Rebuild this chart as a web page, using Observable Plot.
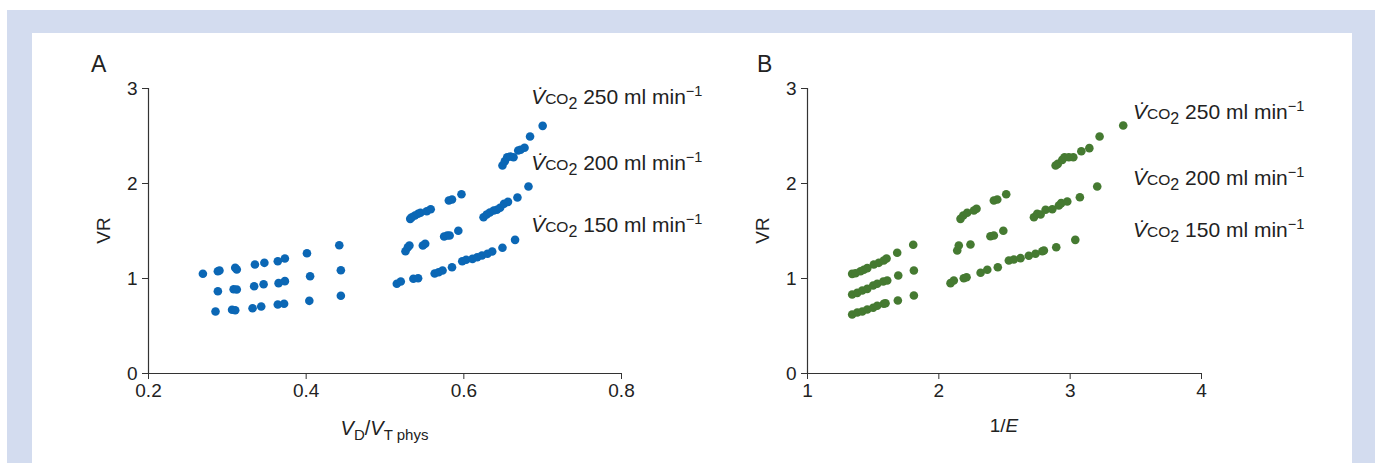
<!DOCTYPE html>
<html><head><meta charset="utf-8">
<script src="https://cdn.jsdelivr.net/npm/d3@7"></script>
<script src="https://cdn.jsdelivr.net/npm/@observablehq/plot@0.6"></script>
<style>
body{margin:0;background:#fff;font-family:"Liberation Sans",Arial,sans-serif;}
#frame{position:absolute;left:7px;top:10px;width:1368px;height:453px;background:#d3dcef;}
#inner{position:absolute;left:32px;top:33px;width:1320px;height:430px;background:#fff;}
#inner svg{position:absolute;top:0;overflow:visible;}
</style></head><body>
<div id="frame"></div><div id="inner"></div>
<script>
// ---- Panel A: VD/VT phys vs VR ----
const vdvt250 = [0.269,0.288,0.290,0.310,0.312,0.335,0.347,0.364,0.373,0.401,0.442, 0.532,0.534,0.538,0.542,0.545,0.553,0.558,0.581,0.585,0.597, 0.649,0.652,0.655,0.659,0.663,0.669,0.672,0.677,0.684,0.700];
const vrA250  = [1.05,1.077,1.084,1.113,1.095,1.147,1.165,1.182,1.21,1.266,1.35, 1.628,1.645,1.663,1.681,1.692,1.708,1.729,1.821,1.832,1.887, 2.189,2.235,2.277,2.284,2.277,2.347,2.355,2.376,2.495,2.607];
const vdvt200 = [0.288,0.308,0.312,0.334,0.346,0.365,0.373,0.405,0.444, 0.526,0.529,0.531,0.548,0.551,0.575,0.579,0.582,0.593, 0.625,0.629,0.633,0.638,0.642,0.646,0.651,0.656,0.668,0.682];
const vrA200  = [0.866,0.887,0.884,0.919,0.94,0.951,0.972,1.024,1.087, 1.287,1.329,1.347,1.347,1.365,1.442,1.453,1.453,1.502, 1.645,1.674,1.695,1.716,1.723,1.744,1.786,1.807,1.853,1.968];
const vdvt150 = [0.285,0.306,0.310,0.332,0.343,0.364,0.372,0.404,0.444, 0.515,0.520,0.536,0.542,0.563,0.568,0.573,0.585,0.598,0.603,0.611,0.617,0.623,0.630,0.636,0.649,0.665];
const vrA150  = [0.653,0.671,0.666,0.687,0.705,0.726,0.734,0.765,0.818, 0.944,0.968,0.997,1.003,1.053,1.066,1.084,1.119,1.182,1.197,1.207,1.224,1.242,1.26,1.284,1.323,1.407];

// ---- Panel B: 1/E vs VR ----
const invE250 = [1.340,1.366,1.404,1.429,1.455,1.505,1.543,1.581,1.602,1.683,1.805, 2.165,2.186,2.216,2.267,2.287,2.419,2.445,2.513, 2.889,2.906,2.940,2.957,2.990,3.024,3.085,3.146,3.224,3.404];
const vrB250  = [1.049,1.056,1.077,1.092,1.109,1.147,1.165,1.189,1.211,1.271,1.355, 1.628,1.663,1.692,1.716,1.734,1.821,1.832,1.887, 2.189,2.207,2.249,2.277,2.277,2.277,2.34,2.372,2.495,2.61];
const invE200 = [1.340,1.379,1.417,1.455,1.500,1.531,1.577,1.607,1.691,1.810, 2.140,2.152,2.241,2.393,2.419,2.491, 2.724,2.749,2.775,2.813,2.864,2.914,2.932,2.978,3.074,3.206];
const vrB200  = [0.832,0.849,0.874,0.891,0.926,0.944,0.968,0.979,1.032,1.084, 1.295,1.347,1.358,1.445,1.453,1.502, 1.645,1.681,1.674,1.723,1.729,1.768,1.793,1.811,1.856,1.968];
const invE150 = [1.340,1.379,1.417,1.455,1.500,1.531,1.581,1.594,1.688,1.810, 2.089,2.114,2.190,2.211,2.318,2.369,2.449,2.533,2.571,2.622,2.685,2.736,2.788,2.800,2.894,3.039];
const vrB150  = [0.621,0.642,0.653,0.674,0.692,0.713,0.734,0.740,0.768,0.821, 0.951,0.979,1.003,1.013,1.060,1.092,1.119,1.189,1.2,1.214,1.239,1.26,1.287,1.295,1.329,1.407];

const seriesRates = ["250","200","150"];
const xTicksA = [0.2,0.4,0.6,0.8];
const xTicksB = [1,2,3,4];
const yTicks = [0,1,2,3];
// annotation anchors in data units [x, y] per series (250, 200, 150)
const annotA = [[0.686,2.83],[0.686,2.14],[0.686,1.48]];
const annotB = [[3.483,2.67],[3.483,1.98],[3.483,1.43]];

const FONT = '"Liberation Sans", Arial, sans-serif';
const AXIS = "#333";

function rows(xs, ys, rate){ return xs.map((x,i)=>({x, y: ys[i], rate})); }

function makePanel(opts){
  const data = [...rows(opts.x250, opts.y250, "250"), ...rows(opts.x200, opts.y200, "200"), ...rows(opts.x150, opts.y150, "150")];
  const dom = opts.domain;
  const plot = Plot.plot({
    width: opts.width, height: 430,
    marginLeft: opts.ml, marginRight: opts.mr, marginTop: 55, marginBottom: 90,
    style: {fontFamily: FONT, fontSize: "19px", color: "#222", background: "transparent", overflow: "visible"},
    x: {domain: dom, ticks: opts.ticks},
    y: {domain: [0,3], ticks: yTicks},
    marks: [
      Plot.ruleX([dom[0]], {y1: 0, y2: 3, stroke: AXIS, strokeWidth: 1.2}),
      Plot.ruleY([0], {x1: dom[0], x2: dom[1], stroke: AXIS, strokeWidth: 1.2}),
      Plot.axisX({ticks: opts.ticks, tickSize: 6, tickPadding: 4, tickFormat: opts.fmt, label: null, stroke: AXIS, fontSize: 19}),
      Plot.axisY({ticks: yTicks, tickSize: 6, tickPadding: 5, tickFormat: d => String(d), label: null, stroke: AXIS, fontSize: 19}),
      Plot.dot(data, {x: "x", y: "y", r: 4.3, fill: opts.color, stroke: "none"})
    ]
  });
  plot.style.left = opts.left + "px";
  document.getElementById("inner").appendChild(plot);
  const sx = plot.scale("x"), sy = plot.scale("y");
  const X = d3.scaleLinear(sx.domain, sx.range), Y = d3.scaleLinear(sy.domain, sy.range);
  const svg = d3.select(plot);
  const g = svg.append("g").attr("font-family", FONT).attr("fill", "#222").attr("text-anchor", "start");
  // series labels
  opts.annot.forEach(([ax, ay], i) => {
    const t = g.append("text").attr("x", X(ax)).attr("y", Y(ay)).attr("font-size", 21).attr("text-anchor", "start");
    t.append("tspan").attr("font-style", "italic").text("V\u0307");
    t.append("tspan").attr("font-size", 15.5).text("CO");
    t.append("tspan").attr("font-size", 16).attr("dy", 5).text("2");
    t.append("tspan").attr("dy", -5).text(" " + seriesRates[i] + " ml min");
    t.append("tspan").attr("font-size", 14.5).attr("dy", -8).text("\u22121");
  });
  // panel letter
  g.append("text").attr("x", opts.letterX).attr("y", 39).attr("font-size", 23).attr("text-anchor", "start").text(opts.letter);
  // y label
  g.append("text").attr("transform", `translate(${X(dom[0]) - 38},${Y(1.5)}) rotate(-90)`)
    .attr("text-anchor", "middle").attr("font-size", 19).text("VR");
  return {g, X, Y};
}

const A = makePanel({left: 0, width: 700, ml: 116, mr: 111, domain: [0.2,0.8], ticks: xTicksA, fmt: d => d.toFixed(1),
  x250: vdvt250, y250: vrA250, x200: vdvt200, y200: vrA200, x150: vdvt150, y150: vrA150,
  color: "#0b67b5", annot: annotA, letter: "A", letterX: 59});
{
  const t = A.g.append("text").attr("x", A.X(0.5)).attr("y", 402).attr("text-anchor", "middle").attr("font-size", 20);
  t.append("tspan").attr("font-style", "italic").text("V");
  t.append("tspan").attr("font-size", 15).attr("dy", 5).text("D");
  t.append("tspan").attr("dy", -5).text("/");
  t.append("tspan").attr("font-style", "italic").text("V");
  t.append("tspan").attr("font-size", 15).attr("dy", 5).text("T phys");
}
const B = makePanel({left: 700, width: 620, ml: 75, mr: 151, domain: [1,4], ticks: xTicksB, fmt: d => String(d),
  x250: invE250, y250: vrB250, x200: invE200, y200: vrB200, x150: invE150, y150: vrB150,
  color: "#457a31", annot: annotB, letter: "B", letterX: 25});
{
  const t = B.g.append("text").attr("x", B.X(2.5)).attr("y", 399).attr("text-anchor", "middle").attr("font-size", 19);
  t.append("tspan").text("1/");
  t.append("tspan").attr("font-style", "italic").text("E");
}
</script>
</body></html>
